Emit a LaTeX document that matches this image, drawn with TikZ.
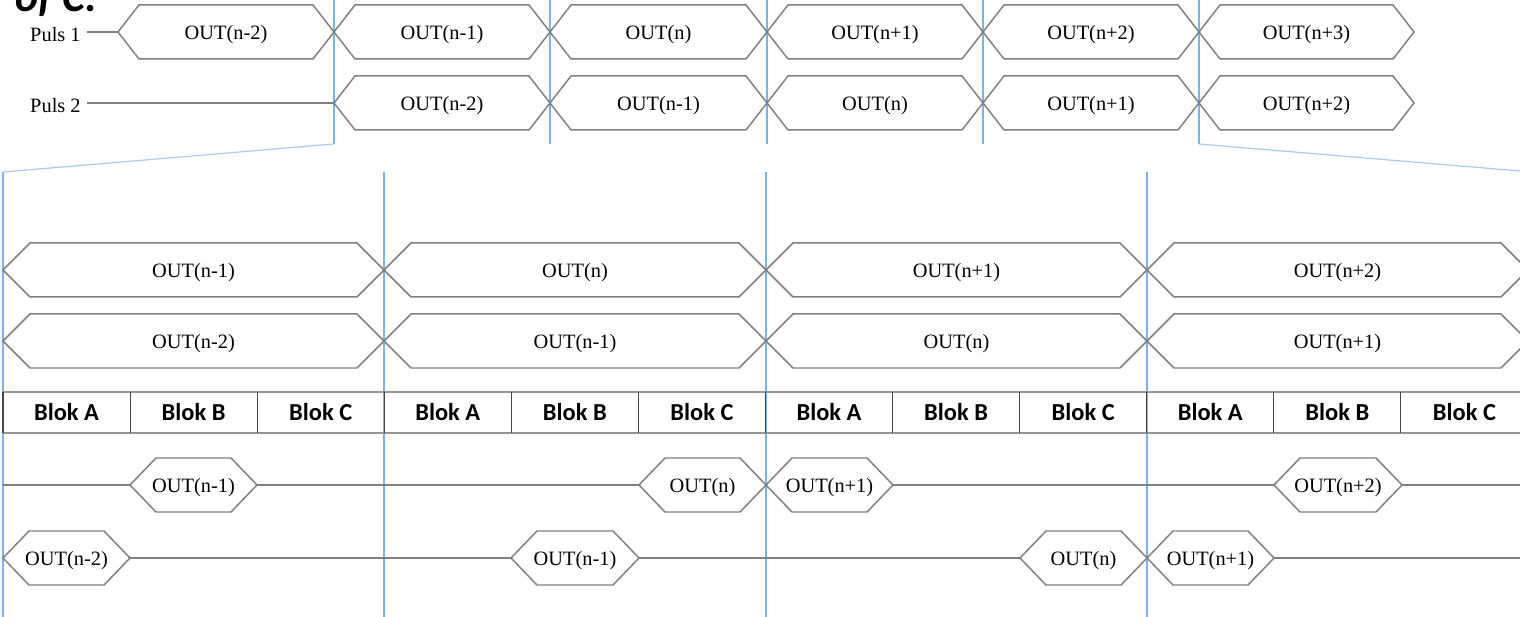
\documentclass[tikz,border=0pt]{standalone}
\usepackage{fontspec}
\setmainfont{Liberation Serif}
\newfontfamily\blokfont{Carlito}
\usetikzlibrary{calc}
\definecolor{sigc}{RGB}{128,128,128}
\definecolor{guide}{RGB}{125,178,230}
\definecolor{guidel}{RGB}{170,202,238}
\definecolor{tabh}{RGB}{150,150,150}
\definecolor{tabv}{RGB}{70,70,70}
\tikzset{
  sig/.style={draw=sigc, line width=0.85pt, line join=miter},
  lbl/.style={font=\fontsize{11.6}{13}\selectfont, inner sep=0pt, yshift=-1.2pt},
  blok/.style={font=\blokfont\bfseries\fontsize{13.9}{16}\selectfont, inner sep=0pt},
  guideline/.style={draw=guide, line width=0.7pt},
  guidediag/.style={draw=guidel, line width=0.7pt},
  tabhline/.style={draw=tabh, line width=0.8pt},
  tabvline/.style={draw=tabv, line width=0.6pt},
}
% #1 name, #2 x left, #3 x right, #4 y centre, #5 half height, #6 slant, #7 text
\newcommand\hexsig[7]{%
  \coordinate (#1-w) at (#2,#4);
  \coordinate (#1-e) at (#3,#4);
  \draw[sig] (#1-w) -- ($(#1-w)+(#6,-#5)$) -- ($(#1-e)+(-#6,-#5)$) -- (#1-e)
     -- ($(#1-e)+(-#6,#5)$) -- ($(#1-w)+(#6,#5)$) -- cycle;
  \node[lbl] (#1) at ($(#1-w)!0.5!(#1-e)$) {#7};
}
\begin{document}
\begin{tikzpicture}[x=0.02cm, y=-0.02cm]
\useasboundingbox (0,0) rectangle (1520,617);
\clip (0,0) rectangle (1520,617);

% cut-off heading
\node[font=\blokfont\bfseries\itshape\fontsize{25}{30}\selectfont, inner sep=0pt, anchor=base west] (head) at (15,12) {of C.};

% blue guide lines
\foreach \x [count=\k] in {334,550,767,983,1199} {
  \coordinate (gt\k) at (\x,0);
  \coordinate (gb\k) at (\x,144);
  \draw[guideline] (gt\k) -- (gb\k);
}
\coordinate (zl) at (3,172);
\coordinate (zr) at (1520,171);
\draw[guidediag] (gb1) -- (zl);
\draw[guidediag] (gb5) -- (zr);
\foreach \x [count=\k] in {3,384,766,1147} {
  \coordinate (vt\k) at (\x,172);
  \coordinate (vb\k) at (\x,617);
  \draw[guideline] (vt\k) -- (vb\k);
}

% top: Puls 1 / Puls 2
\node[lbl, anchor=east] (p1) at (81,32) {Puls 1};
\node[lbl, anchor=east] (p2) at (81,103) {Puls 2};
\foreach \i/\l/\r/\t in {1/118/334/OUT(n-2),2/334/550/OUT(n-1),3/550/767/OUT(n),4/767/983/OUT(n+1),5/983/1199/OUT(n+2),6/1199/1414/OUT(n+3)} {
  \hexsig{a\i}{\l}{\r}{32}{27}{21}{\t}
}
\foreach \i/\l/\r/\t in {1/334/550/OUT(n-2),2/550/767/OUT(n-1),3/767/983/OUT(n),4/983/1199/OUT(n+1),5/1199/1414/OUT(n+2)} {
  \hexsig{b\i}{\l}{\r}{103}{27}{21}{\t}
}
\draw[sig, shorten <=3.4pt] (p1.east |- a1-w) -- (a1-w);
\draw[sig, shorten <=3.4pt] (p2.east |- b1-w) -- (b1-w);

% zoomed rows
\foreach \i/\l/\r/\t in {1/3/384/OUT(n-1),2/384/766/OUT(n),3/766/1147/OUT(n+1),4/1147/1528/OUT(n+2)} {
  \hexsig{r\i}{\l}{\r}{270}{27}{27}{\t}
}
\foreach \i/\l/\r/\t in {1/3/384/OUT(n-2),2/384/766/OUT(n-1),3/766/1147/OUT(n),4/1147/1528/OUT(n+1)} {
  \hexsig{s\i}{\l}{\r}{341}{27}{27}{\t}
}

% block table
\coordinate (tl) at (3,392);
\coordinate (tr) at (1528,392);
\coordinate (bl) at (3,433);
\coordinate (br) at (1528,433);
\draw[tabhline] (tl) -- (tr);
\draw[tabhline] (bl) -- (br);
\foreach \k in {0,...,12} {
  \coordinate (ct\k) at ({3+127.08*\k},392);
  \coordinate (cb\k) at ({3+127.08*\k},433);
  \draw[tabvline] (ct\k) -- (cb\k);
}
\foreach \k/\t in {0/A,1/B,2/C,3/A,4/B,5/C,6/A,7/B,8/C,9/A,10/B,11/C} {
  \node[blok] (blk\k) at ({3+127.08*(\k+0.5)},412) {Blok \t};
}

% lower rows
\hexsig{c1}{130}{257}{485}{27}{26}{OUT(n-1)}
\hexsig{c2}{639}{766}{485}{27}{26}{OUT(n)}
\hexsig{c3}{766}{893}{485}{27}{26}{OUT(n+1)}
\hexsig{c4}{1274}{1402}{485}{27}{26}{OUT(n+2)}
\coordinate (cL) at (3,485);
\coordinate (cR) at (1520,485);
\draw[sig] (cL) -- (c1-w);
\draw[sig] (c1-e) -- (c2-w);
\draw[sig] (c3-e) -- (c4-w);
\draw[sig] (c4-e) -- (cR);

\hexsig{d1}{3}{130}{558}{27}{26}{OUT(n-2)}
\hexsig{d2}{511}{639}{558}{27}{26}{OUT(n-1)}
\hexsig{d3}{1020}{1147}{558}{27}{26}{OUT(n)}
\hexsig{d4}{1147}{1274}{558}{27}{26}{OUT(n+1)}
\coordinate (dR) at (1520,558);
\draw[sig] (d1-e) -- (d2-w);
\draw[sig] (d2-e) -- (d3-w);
\draw[sig] (d4-e) -- (dR);
\end{tikzpicture}
\end{document}
